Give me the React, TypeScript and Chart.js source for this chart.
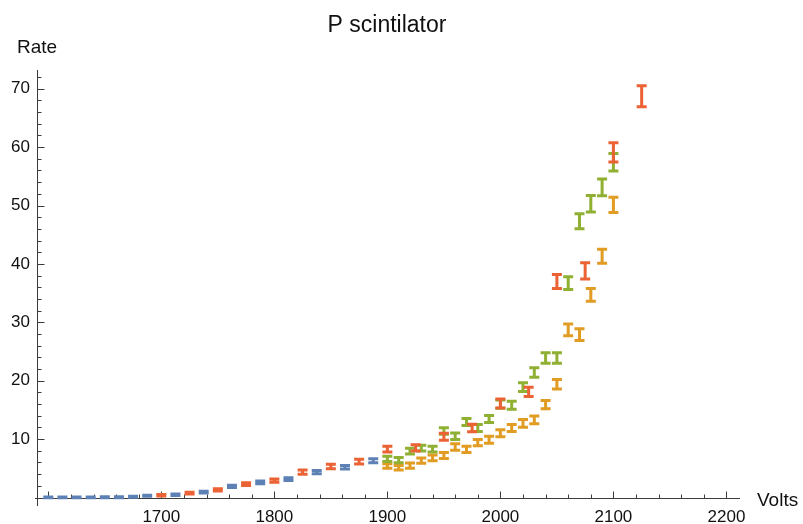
import React, { useEffect, useRef } from "react";
import { Chart, registerables } from "chart.js";

Chart.register(...registerables);

const TITLE = "P scintilator";
const X_LABEL = "Volts";
const Y_LABEL = "Rate";

// Series 1 (blue)
const blueVolts = [1600, 1612.5, 1625, 1637.5, 1650, 1662.5, 1675, 1687.5, 1712.5, 1737.5, 1762.5, 1787.5, 1812.5, 1837.5, 1862.5, 1887.5];
const blueRate = [0.03, 0.03, 0.03, 0.03, 0.04, 0.06, 0.14, 0.3, 0.48, 0.92, 1.9, 2.6, 3.15, 4.35, 5.2, 6.3];
const blueErr = [0.08, 0.08, 0.08, 0.08, 0.08, 0.08, 0.1, 0.1, 0.12, 0.15, 0.2, 0.22, 0.25, 0.28, 0.3, 0.33];

// Series 2 (orange)
const orangeVolts = [1900, 1910, 1920, 1930, 1940, 1950, 1960, 1970, 1980, 1990, 2000, 2010, 2020, 2030, 2040, 2050, 2060, 2070, 2080, 2090, 2100];
const orangeRate = [5.4, 5.1, 5.45, 6.3, 6.8, 7.2, 8.65, 8.25, 9.4, 9.9, 11.0, 11.9, 12.7, 13.3, 15.9, 19.4, 28.7, 27.9, 34.7, 41.3, 50.1];
const orangeErr = [0.4, 0.4, 0.45, 0.45, 0.5, 0.5, 0.55, 0.55, 0.55, 0.6, 0.6, 0.6, 0.65, 0.65, 0.7, 0.8, 1.0, 1.0, 1.1, 1.2, 1.3];

// Series 3 (green)
const greenVolts = [1900, 1910, 1920, 1930, 1940, 1950, 1960, 1970, 1980, 1990, 2000, 2010, 2020, 2030, 2040, 2050, 2060, 2070, 2080, 2090, 2100];
const greenRate = [6.6, 6.4, 7.95, 8.45, 8.3, 11.4, 10.5, 12.95, 11.9, 13.45, 16.0, 15.8, 18.9, 21.4, 23.9, 23.9, 36.7, 47.3, 50.3, 53.1, 57.4];
const greenErr = [0.45, 0.45, 0.5, 0.5, 0.5, 0.55, 0.55, 0.6, 0.6, 0.6, 0.7, 0.7, 0.75, 0.8, 0.9, 0.9, 1.1, 1.3, 1.4, 1.45, 1.5];

// Series 4 (red)
const redVolts = [1700, 1725, 1750, 1775, 1800, 1825, 1850, 1875, 1900, 1925, 1950, 1975, 2000, 2025, 2050, 2075, 2100, 2125];
const redRate = [0.38, 0.75, 1.3, 2.3, 2.9, 4.35, 5.3, 6.15, 8.3, 8.5, 10.4, 11.9, 16.1, 18.1, 37.0, 38.8, 59.1, 68.7];
const redErr = [0.12, 0.15, 0.2, 0.25, 0.28, 0.35, 0.38, 0.4, 0.5, 0.55, 0.6, 0.65, 0.75, 0.8, 1.2, 1.4, 1.65, 1.8];

const COLORS = ["#5E81B5", "#E19C24", "#8FB032", "#EB6235"];

const X_MIN = 1590;
const X_MAX = 2212;
const Y_MIN = -1.45;
const Y_MAX = 73.2;
const X_MAJOR = [1600, 1700, 1800, 1900, 2000, 2100, 2200];
const Y_MAJOR = [0, 10, 20, 30, 40, 50, 60, 70];

const FONT = "'Liberation Sans', Arial, Helvetica, sans-serif";
const AXIS_COLOR = "#3c3c3c";

const errorBarPlugin = {
  id: "errorBars",
  afterDatasetsDraw(chart: any) {
    const { ctx } = chart;
    const xs = chart.scales.x;
    const ys = chart.scales.y;
    ctx.save();
    chart.data.datasets.forEach((ds: any) => {
      const errs: number[] = ds.errors;
      ctx.strokeStyle = ds.borderColor;
      ctx.lineWidth = 3;
      ctx.lineCap = "butt";
      ds.data.forEach((p: any, j: number) => {
        const px = xs.getPixelForValue(p.x);
        const top = ys.getPixelForValue(p.y + errs[j]);
        const bot = ys.getPixelForValue(p.y - errs[j]);
        ctx.beginPath();
        ctx.moveTo(px, top);
        ctx.lineTo(px, bot);
        ctx.moveTo(px - 5, top);
        ctx.lineTo(px + 5, top);
        ctx.moveTo(px - 5, bot);
        ctx.lineTo(px + 5, bot);
        ctx.stroke();
      });
    });
    ctx.restore();
  },
};

const axesPlugin = {
  id: "mmaAxes",
  beforeDatasetsDraw(chart: any) {
    const { ctx, chartArea } = chart;
    const xs = chart.scales.x;
    const ys = chart.scales.y;
    const y0 = Math.round(ys.getPixelForValue(0)) + 0.5;
    const x0 = Math.round(chartArea.left) + 0.5;
    ctx.save();
    ctx.strokeStyle = AXIS_COLOR;
    ctx.lineWidth = 1;
    ctx.beginPath();
    ctx.moveTo(chartArea.left - 2, y0);
    ctx.lineTo(chartArea.right, y0);
    ctx.moveTo(x0, chartArea.top);
    ctx.lineTo(x0, chartArea.bottom);
    // x ticks
    for (let v = 1600; v <= 2200; v += 20) {
      const major = X_MAJOR.includes(v);
      const px = Math.round(xs.getPixelForValue(v)) + 0.5;
      ctx.moveTo(px, y0);
      ctx.lineTo(px, y0 - (major ? 7 : 4));
    }
    // y ticks
    for (let v = 0; v <= 72; v += 2) {
      const major = Y_MAJOR.includes(v);
      const py = Math.round(ys.getPixelForValue(v)) + 0.5;
      ctx.moveTo(x0, py);
      ctx.lineTo(x0 + (major ? 7 : 4), py);
    }
    ctx.stroke();
    ctx.restore();
  },
  afterDraw(chart: any) {
    const { ctx, chartArea } = chart;
    const ys = chart.scales.y;
    ctx.save();
    ctx.fillStyle = "#111";
    ctx.textBaseline = "alphabetic";
    ctx.font = `23px ${FONT}`;
    ctx.textAlign = "center";
    ctx.fillText(TITLE, 387, 32);
    ctx.font = `19px ${FONT}`;
    ctx.fillText(Y_LABEL, chartArea.left, 53);
    ctx.textAlign = "left";
    ctx.textBaseline = "middle";
    ctx.fillText(X_LABEL, chartArea.right + 17, ys.getPixelForValue(0) + 3);
    ctx.restore();
  },
};

function toPoints(xs: number[], ys: number[]) {
  return xs.map((x, i) => ({ x, y: ys[i] }));
}

export default function App() {
  const ref = useRef<HTMLCanvasElement | null>(null);
  useEffect(() => {
    document.body.style.margin = "0";
    if (!ref.current) return;
    const chart = new Chart(ref.current, {
      type: "scatter",
      data: {
        datasets: [
          { label: "s1", data: toPoints(blueVolts, blueRate), errors: blueErr, borderColor: COLORS[0], backgroundColor: COLORS[0], pointRadius: 0 } as any,
          { label: "s2", data: toPoints(orangeVolts, orangeRate), errors: orangeErr, borderColor: COLORS[1], backgroundColor: COLORS[1], pointRadius: 0 } as any,
          { label: "s3", data: toPoints(greenVolts, greenRate), errors: greenErr, borderColor: COLORS[2], backgroundColor: COLORS[2], pointRadius: 0 } as any,
          { label: "s4", data: toPoints(redVolts, redRate), errors: redErr, borderColor: COLORS[3], backgroundColor: COLORS[3], pointRadius: 0 } as any,
        ],
      },
      options: {
        animation: false,
        responsive: false,
        events: [],
        layout: { padding: { left: 0, top: 70, right: 63, bottom: 0 } },
        plugins: { legend: { display: false }, tooltip: { enabled: false }, title: { display: false } },
        scales: {
          x: {
            type: "linear",
            min: X_MIN,
            max: X_MAX,
            grid: { display: false, drawTicks: false },
            border: { display: false },
            afterFit: (s: any) => { s.height = 18; },
            ticks: {
              stepSize: 100,
              includeBounds: false,
              padding: 1,
              color: "#111",
              maxRotation: 0,
              autoSkip: false,
              font: { family: FONT, size: 17 },
              callback: (v: any) => (v === 1600 ? "" : String(v)),
            },
          },
          y: {
            type: "linear",
            min: Y_MIN,
            max: Y_MAX,
            grid: { display: false, drawTicks: false },
            border: { display: false },
            afterFit: (s: any) => { s.width = 37; },
            ticks: {
              stepSize: 10,
              includeBounds: false,
              padding: 7,
              color: "#111",
              autoSkip: false,
              font: { family: FONT, size: 17 },
              callback: (v: any) => (v === 0 ? "" : String(v)),
            },
          },
        },
      } as any,
      plugins: [axesPlugin, errorBarPlugin],
    });
    return () => chart.destroy();
  }, []);
  return (
    <div style={{ width: 803, height: 524 }}>
      <canvas ref={ref} width={803} height={524} style={{ display: "block" }} />
    </div>
  );
}
